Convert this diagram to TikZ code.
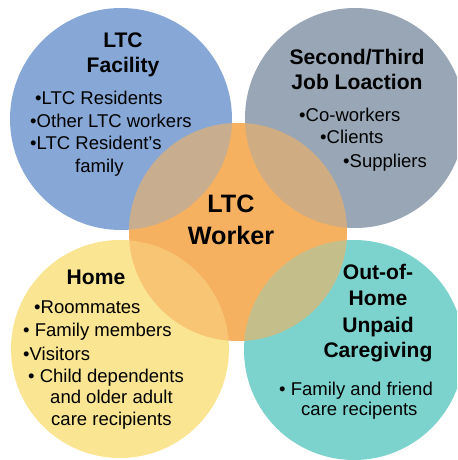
\documentclass[tikz,border=0pt]{standalone}
\usepackage{fontspec}
\setmainfont{Liberation Sans}
\usetikzlibrary{positioning}

\definecolor{facility}{RGB}{135,168,214}
\definecolor{jobsite}{RGB}{152,166,182}
\definecolor{homecol}{RGB}{250,229,146}
\definecolor{unpaid}{RGB}{124,211,205}
\definecolor{worker}{RGB}{245,177,96}

\tikzset{
	head/.style={font=\bfseries\fontsize{18}{22}\selectfont, anchor=base, inner sep=0pt},
	core/.style={font=\bfseries\fontsize{21.5}{26}\selectfont, anchor=base, inner sep=0pt},
	item/.style={font=\fontsize{15.8}{19}\selectfont, anchor=base west, inner sep=0pt},
}

\begin{document}
\begin{tikzpicture}[x=0.03cm, y=-0.03cm]
			\useasboundingbox (0,0) rectangle (457,460);
			\clip (0,0) rectangle (457,460);
			\coordinate (fac) at (121,119);
			\coordinate (job) at (355,118);
			\coordinate (hom) at (120,349);
			\coordinate (unp) at (354,350);
			\coordinate (wrk) at (238,232);

			% outer circles, then the worker circle on top
			\fill[facility] (fac) circle (111);
			\fill[jobsite] (job) circle (110);
			\fill[homecol] (hom) circle (109);
			\fill[unpaid] (unp) circle (110);
			\fill[worker] (wrk) circle (109);
			% tinted overlaps
			\begin{scope}
				\clip (wrk) circle (109);
				\fill[facility, opacity=.4] (fac) circle (111);
				\fill[jobsite, opacity=.4] (job) circle (110);
				\fill[homecol, opacity=.4] (hom) circle (109);
				\fill[unpaid, opacity=.4] (unp) circle (110);
			\end{scope}

			% LTC facility
			\node[head] (fac1) at (123,48) {LTC};
			\node[head] (fac2) at (123,73) {Facility};
			\node[item] (faca) at (35,105) {•LTC Residents};
			\node[item] (facb) at (30,128) {•Other LTC workers};
			\node[item] (facc) at (30,150) {•LTC Resident's};
			\node[item] (facd) at (75,173) {family};

			% second/third job
			\node[head] (job1) at (357,65) {Second/Third};
			\node[head] (job2) at (357,90) {Job Loaction};
			\node[item] (joba) at (299,122) {•Co-workers};
			\node[item] (jobb) at (320,144) {•Clients};
			\node[item] (jobc) at (343,168) {•Suppliers};

			% home
			\node[head] (hom1) at (96,284) {Home};
			\node[item] (homa) at (34,313) {•Roommates};
			\node[item] (homb) at (23,336) {• Family members};
			\node[item] (homc) at (23,360) {•Visitors};
			\node[item] (homd) at (28,382) {• Child dependents};
			\node[item] (home) at (50,403) {and older adult};
			\node[item] (homf) at (51,425) {care recipients};

			% out-of-home caregiving
			\node[head] (unp1) at (378,279) {Out-of-};
			\node[head] (unp2) at (378,305) {Home};
			\node[head] (unp3) at (378,332) {Unpaid};
			\node[head] (unp4) at (378,357) {Caregiving};
			\node[item] (unpa) at (279,395) {• Family and friend};
			\node[item] (unpb) at (301,415) {care recipents};

			% the worker
			\node[core] (wrk1) at (231,213) {LTC};
			\node[core] (wrk2) at (231,244) {Worker};
		\end{tikzpicture}
\end{document}
